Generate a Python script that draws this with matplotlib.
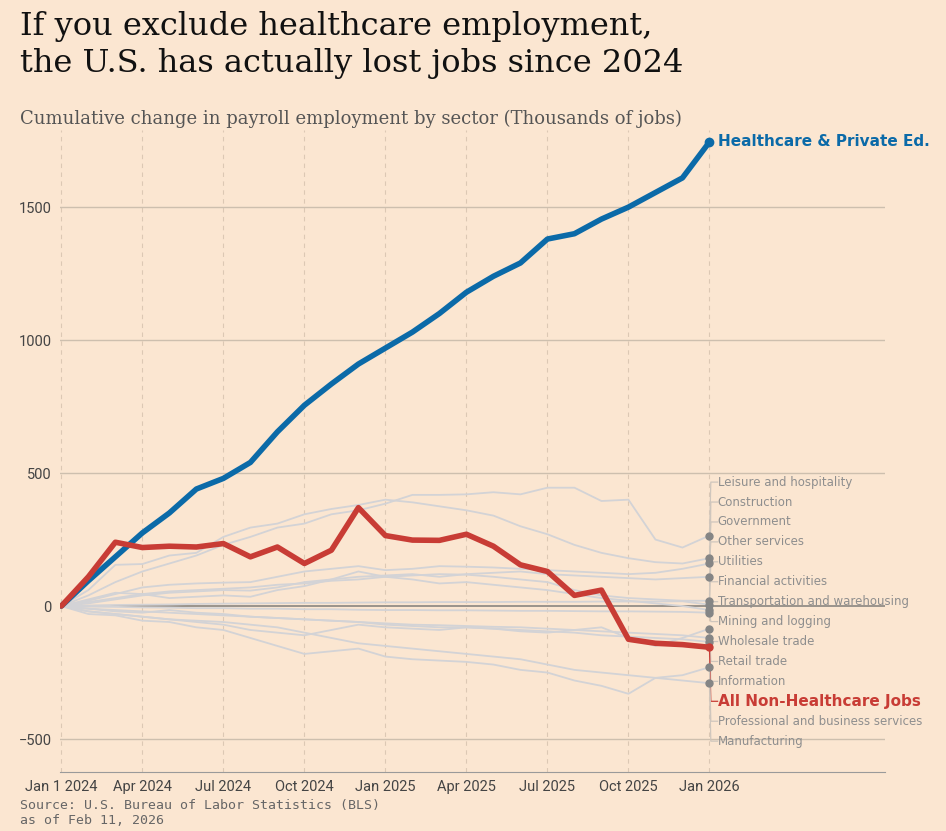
import numpy as np
import matplotlib
matplotlib.use("Agg")
import matplotlib.pyplot as plt

BG = "#fbe6d1"
BLUE = "#0b6aa8"
RED = "#c83c35"
GRAY_LINE = "#d3d3d6"
LABEL_GRAY = "#8e8e8e"

months = list(range(25))  # Jan 2024 .. Jan 2026
tick_pos = [0, 3, 6, 9, 12, 15, 18, 21, 24]
tick_labels = ["Jan 1 2024", "Apr 2024", "Jul 2024", "Oct 2024", "Jan 2025",
               "Apr 2025", "Jul 2025", "Oct 2025", "Jan 2026"]

healthcare = [0, 95, 185, 275, 350, 440, 480, 540, 655, 755, 835, 910, 970,
              1030, 1100, 1180, 1240, 1290, 1380, 1400, 1455, 1500, 1555, 1610, 1745]
non_healthcare = [0, 110, 240, 220, 225, 222, 235, 185, 222, 160, 210, 370, 265,
                  248, 247, 270, 225, 155, 130, 40, 60, -125, -140, -145, -155]

# sector lines (order = label order top to bottom, excluding the red total)
sectors = ["Leisure and hospitality", "Construction", "Government", "Other services",
           "Utilities", "Financial activities", "Transportation and warehousing",
           "Mining and logging", "Wholesale trade", "Retail trade", "Information",
           "Professional and business services", "Manufacturing"]
sector_values = [
    [0, 40, 90, 130, 160, 190, 230, 260, 295, 310, 345, 360, 385, 418, 418, 420,
     428, 420, 445, 445, 395, 400, 250, 220, 265],
    [0, 15, 30, 45, 55, 60, 65, 70, 80, 85, 95, 100, 110, 115, 120, 118, 110,
     100, 90, 60, 40, 30, 25, 20, 20],
    [0, 60, 155, 158, 190, 200, 260, 295, 310, 345, 365, 380, 400, 390, 375, 360,
     340, 300, 270, 230, 200, 180, 165, 160, 180],
    [0, 20, 45, 70, 80, 85, 88, 90, 110, 130, 140, 150, 135, 140, 150, 148, 145,
     140, 135, 130, 125, 120, 125, 140, 160],
    [0, 2, 4, 5, 6, 8, 9, 10, 11, 12, 12, 13, 14, 14, 15, 15, 15, 16, 16, 16,
     17, 17, 17, 18, 5],
    [0, 10, 25, 40, 50, 55, 60, 58, 70, 90, 100, 110, 115, 120, 110, 120, 125,
     130, 120, 115, 110, 105, 100, 105, 110],
    [0, 25, 50, 45, 30, 35, 40, 35, 60, 75, 100, 130, 110, 100, 85, 90, 80,
     70, 60, 45, 30, 20, 10, 0, -15],
    [0, -2, -3, -5, -6, -8, -8, -10, -10, -12, -12, -14, -15, -15, -16, -16,
     -17, -18, -18, -19, -20, -20, -21, -22, -25],
    [0, -10, -15, -20, -25, -30, -35, -40, -45, -50, -55, -60, -65, -70, -72,
     -75, -78, -80, -85, -90, -95, -100, -105, -110, -120],
    [0, -20, -30, -40, -50, -60, -70, -90, -100, -110, -90, -70, -80, -85, -90,
     -80, -85, -95, -100, -90, -80, -120, -150, -120, -85],
    [0, -10, -20, -25, -15, -25, -30, -40, -45, -50, -55, -60, -70, -75, -80,
     -80, -85, -90, -95, -100, -110, -115, -120, -125, -135],
    [0, -30, -35, -55, -60, -80, -90, -120, -150, -180, -170, -160, -190, -200,
     -205, -210, -220, -240, -250, -280, -300, -330, -270, -260, -230],
    [0, -20, -30, -40, -50, -55, -60, -70, -80, -100, -120, -140, -150, -160,
     -170, -180, -190, -200, -220, -240, -250, -260, -270, -280, -290],
]

plt.rcParams['font.family'] = ['Roboto', 'DejaVu Sans']

fig = plt.figure(figsize=(9.46, 8.31), dpi=100, facecolor=BG)
ax = fig.add_axes([60 / 946, 59 / 831, 825 / 946, 642 / 831])
ax.set_facecolor(BG)

ax.set_xlim(-0.05, 30.5)
ax.set_ylim(-624, 1790)

for y in [-500, 500, 1000, 1500]:
    ax.axhline(y, color="#cdbfae", lw=1, zorder=1)
ax.axhline(0, color="#8a8580", lw=1.2, zorder=1)
for x in tick_pos:
    ax.axvline(x, color="#dcc8b4", lw=0.8, ls=(0, (4, 4)), zorder=0)

for vals in sector_values:
    ax.plot(months, vals, color=GRAY_LINE, lw=1.3, zorder=2)
    ax.plot(24, vals[-1], "o", color="#858585", ms=5, zorder=5)

ax.plot(months, healthcare, color=BLUE, lw=4, zorder=6, solid_capstyle="round")
ax.plot(24, healthcare[-1], "o", color=BLUE, ms=6, zorder=7)
ax.plot(months, non_healthcare, color=RED, lw=4, zorder=6, solid_capstyle="round")
ax.plot(24, non_healthcare[-1], "o", color=RED, ms=5, zorder=7)

ax.text(24.3, healthcare[-1], "Healthcare & Private Ed.", color=BLUE,
        fontsize=11, fontweight="bold", va="center", family="DejaVu Sans")

# right-side labels, evenly spaced
label_names = sectors[:11] + ["All Non-Healthcare Jobs"] + sectors[11:]
label_ends = [v[-1] for v in sector_values[:11]] + [non_healthcare[-1]] + \
    [v[-1] for v in sector_values[11:]]
label_y = np.linspace(466, -508, len(label_names))
for name, yend, yl in zip(label_names, label_ends, label_y):
    is_red = name.startswith("All")
    c = RED if is_red else "#cfc6bd"
    ax.plot([24, 24.05, 24.3], [yend, yl, yl], color=c, lw=0.9, zorder=3)
    ax.text(24.3, yl, name, va="center", fontsize=11 if is_red else 8.5,
            color=RED if is_red else LABEL_GRAY,
            fontweight="bold" if is_red else "normal", family="DejaVu Sans")

ax.set_xticks(tick_pos)
ax.set_xticklabels(tick_labels, fontsize=10.5, color="#444444")
ax.set_yticks([-500, 0, 500, 1000, 1500])
ax.set_yticklabels(["\u2212500", "0", "500", "1000", "1500"], fontsize=10.5,
                   color="#444444")
ax.tick_params(length=0, pad=6)
for s in ["top", "right", "left"]:
    ax.spines[s].set_visible(False)
ax.spines["bottom"].set_color("#9a9a9a")

fig.text(20 / 946, 1 - 45 / 831, "If you exclude healthcare employment,\nthe U.S. has actually lost jobs since 2024",
         fontsize=23, family="DejaVu Serif", va="center", color="#111111",
         linespacing=1.25)
fig.text(20 / 946, 1 - 119 / 831,
         "Cumulative change in payroll employment by sector (Thousands of jobs)",
         fontsize=13, family="DejaVu Serif", color="#555555", va="center")
fig.text(20 / 946, 1 - 813 / 831, "Source: U.S. Bureau of Labor Statistics (BLS)\nas of Feb 11, 2026",
         fontsize=9.5, family="DejaVu Sans Mono", color="#666666", va="center",
         linespacing=1.1)

fig.savefig("out.png", dpi=100, facecolor=BG)
